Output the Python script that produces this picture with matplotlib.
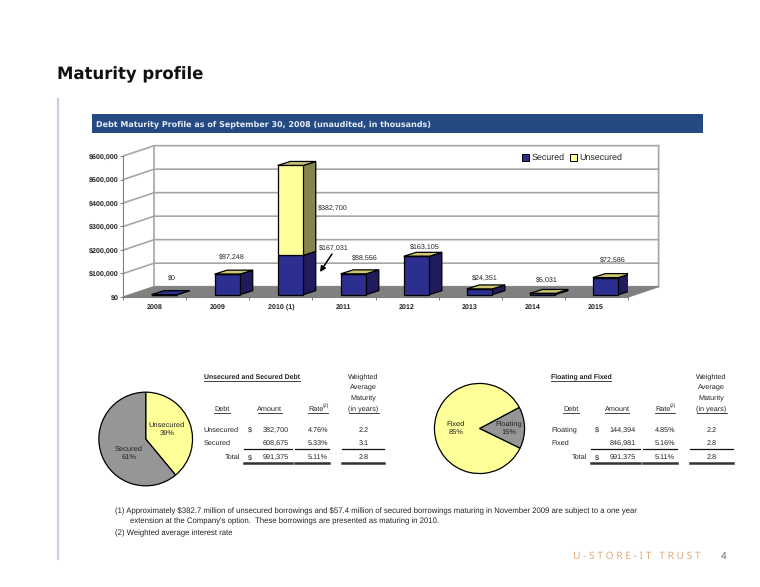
import matplotlib
matplotlib.use("Agg")
import matplotlib.pyplot as plt
from matplotlib.patches import Polygon, Patch, Rectangle

W, H = 760, 587

years = ['2008', '2009', '2010 (1)', '2011', '2012', '2013', '2014', '2015']
secured = [0, 87248, 167031, 88556, 163105, 24351, 5031, 72586]
unsecured = [0, 0, 382700, 0, 0, 0, 0, 0]
y_ticks = [0, 100000, 200000, 300000, 400000, 500000, 600000]

pie1_labels = ['Unsecured\n39%', 'Secured\n61%']
pie1_values = [39, 61]
pie2_labels = ['Floating\n15%', 'Fixed\n85%']
pie2_values = [15, 85]

table1_rows = [['Unsecured', '$', '382,700', '4.76%', '2.2'],
               ['Secured', '', '608,675', '5.33%', '3.1'],
               ['Total', '$', '991,375', '5.11%', '2.8']]
table2_rows = [['Floating', '$', '144,394', '4.85%', '2.2'],
               ['Fixed', '', '846,981', '5.16%', '2.8'],
               ['Total', '$', '991,375', '5.11%', '2.8']]

notes = ["(1) Approximately \\$382.7 million of unsecured borrowings and \\$57.4 million of secured borrowings maturing in November 2009 are subject to a one year",
         "extension at the Company's option.  These borrowings are presented as maturing in 2010.",
         "(2) Weighted average interest rate"]

NAVY = '#2c2e90'
NAVY_SIDE = '#1f1b5c'
YEL = '#ffff99'
YEL_SIDE = '#85834f'
YEL_TOP = '#cdc672'
GRID = '#a6a6a6'
TXT = '#222222'
ARIAL = 'Liberation Sans'
CHART_FS = 5.1

plt.rcParams['font.family'] = [ARIAL, 'DejaVu Sans']
plt.rcParams['text.hinting'] = 'no_hinting'

fig = plt.figure(figsize=(W / 100, H / 100), dpi=100, facecolor='white')


def px_axes(left, top, right, bottom):
    return fig.add_axes([left / W, 1 - bottom / H, (right - left) / W, (bottom - top) / H])


# page layer in pixel coordinates
page = fig.add_axes([0, 0, 1, 1])
page.set_xlim(0, W)
page.set_ylim(H, 0)
page.axis('off')

page.plot([58, 58], [99, 559], color='#c6d1e5', lw=1.6)
page.add_patch(Rectangle((92, 114), 611, 19, color='#234a82', lw=0))
page.text(57, 75, 'Maturity profile', family='DejaVu Sans', weight='bold', fontsize=11.9,
          color='#111111', va='center')
page.text(96, 124, 'Debt Maturity Profile as of September 30, 2008 (unaudited, in thousands)',
          family='DejaVu Sans', weight='bold', fontsize=5.72, color='#e8edf5', va='center')

# 3d style bar chart
ax = px_axes(123.3, 156, 627.7, 297)
ax.set_xlim(0, 8)
ax.set_ylim(0, 600000)
ax.patch.set_alpha(0)

# depth of the walls and bars in data units
wall_dx, wall_dy = 0.49, 44000
bar_dx, bar_dy = 0.2, 17000
bar_w = 0.405
bar_base = 10000

ax.add_patch(Polygon([(0, 0), (8, 0), (8 + wall_dx, wall_dy), (wall_dx, wall_dy)],
                     closed=True, fc='#808080', ec='#808080', lw=0.5, clip_on=False, zorder=1))
for t in y_ticks:
    ax.plot([0, wall_dx, 8 + wall_dx], [t, t + wall_dy, t + wall_dy], color=GRID, lw=1.2,
            clip_on=False, zorder=0.5)
ax.plot([wall_dx, wall_dx], [wall_dy, 600000 + wall_dy], color=GRID, lw=1.2, clip_on=False, zorder=0.5)
ax.plot([8, 8 + wall_dx, 8 + wall_dx], [0, wall_dy, 600000 + wall_dy], color=GRID, lw=1.2,
        clip_on=False, zorder=0.5)

xs = [i + 0.65 for i in range(len(years))]
tops = [bar_base + s + u for s, u in zip(secured, unsecured)]
mids = [bar_base + s for s in secured]

ax.bar(xs, secured, bar_w, bottom=bar_base, color=NAVY, edgecolor='black', lw=0.9, zorder=3)
ax.bar(xs, unsecured, bar_w, bottom=mids, color=YEL, edgecolor='black', lw=0.9, zorder=3)

for x, m, top, s, u in zip(xs, mids, tops, secured, unsecured):
    r = x + bar_w / 2
    l = x - bar_w / 2
    ax.add_patch(Polygon([(r, bar_base), (r + bar_dx, bar_base + bar_dy), (r + bar_dx, m + bar_dy), (r, m)],
                         closed=True, fc=NAVY_SIDE, ec='black', lw=0.9, zorder=2.5))
    if u > 0:
        ax.add_patch(Polygon([(r, m), (r + bar_dx, m + bar_dy), (r + bar_dx, top + bar_dy), (r, top)],
                             closed=True, fc=YEL_SIDE, ec='black', lw=0.9, zorder=2.5))
    ax.add_patch(Polygon([(l, top), (r, top), (r + bar_dx, top + bar_dy), (l + bar_dx, top + bar_dy)],
                         closed=True, fc=YEL_TOP if s > 0 else NAVY, ec='black', lw=0.9, zorder=2.6))

for side in ['top', 'right']:
    ax.spines[side].set_visible(False)
for side in ['left', 'bottom']:
    ax.spines[side].set_color('#808080')
ax.set_yticks(y_ticks)
ax.set_yticklabels(['\\${:,}'.format(t) for t in y_ticks], fontsize=CHART_FS, color=TXT, weight='bold')
ax.set_xticks(range(9))
ax.set_xticklabels([])
ax.set_xticks([i + 0.5 for i in range(8)], minor=True)
ax.set_xticklabels(years, minor=True, fontsize=CHART_FS, color=TXT, weight='bold', va='baseline')
ax.tick_params(axis='x', which='minor', length=0, pad=8.6)
ax.tick_params(axis='both', which='major', length=2.5, width=0.7, color='#808080')
ax.tick_params(axis='y', pad=0.5)

ax.legend(handles=[Patch(fc=NAVY, ec='black', lw=0.7, label='Secured'),
                   Patch(fc=YEL, ec='black', lw=0.7, label='Unsecured')],
          ncol=2, frameon=False, fontsize=6.4, handlelength=0.8, handleheight=0.8, handletextpad=0.25,
          columnspacing=0.6, labelcolor=TXT, loc='center', bbox_to_anchor=(0.89, 0.986), borderpad=0)

# value labels on the chart
label_pos = [(172, 278), (232, 257), (334, 248), (365, 258), (425, 247), (485, 278), (547, 280), (613, 260)]
for (lx, ly), s in zip(label_pos, secured):
    page.text(lx, ly, '\\${:,}'.format(s), fontsize=CHART_FS, color=TXT, ha='center', va='center')
page.text(333, 208, '\\${:,}'.format(unsecured[2]), fontsize=CHART_FS, color=TXT, ha='center', va='center')
page.annotate('', xy=(320, 272), xytext=(332, 254),
              arrowprops=dict(arrowstyle='-|>', color='black', lw=1.1, mutation_scale=8, shrinkA=0, shrinkB=0))


# pies
def draw_pie(cx, cy, r, values, labels, colors, start, label_pos):
    a = px_axes(cx - r, cy - r, cx + r, cy + r)
    a.pie(values, colors=colors, startangle=start, counterclock=False, radius=1,
          wedgeprops=dict(edgecolor='black', linewidth=0.9))
    a.set_xlim(-1.01, 1.01)
    a.set_ylim(-1.01, 1.01)
    for lab, (lx, ly) in zip(labels, label_pos):
        page.text(lx, ly, lab, fontsize=5.4, color=TXT, ha='center', va='center', linespacing=1.25)


page.set_zorder(5)
draw_pie(145.7, 439, 47.3, pie1_values, pie1_labels, [YEL, '#969696'], 90, [(167, 429), (129, 453)])
draw_pie(479.5, 428.5, 45.5, pie2_values, pie2_labels, ['#969696', YEL], 28, [(509, 428), (456, 428)])


# tables next to the pies
def draw_table(title, rows, x_label, x_debt, x_dollar, x_amount, x_rate, x_mat, x_total, spans, title_end):
    fs = 5.2
    page.text(x_label, 377, title, fontsize=4.95, weight='bold', color=TXT, va='center')
    page.plot([x_label, title_end], [381, 381], color=TXT, lw=0.6)
    for yy, t in zip([377, 387.5, 398, 409], ['Weighted', 'Average', 'Maturity', '(in years)']):
        page.text(x_mat, yy, t, fontsize=fs, color=TXT, ha='center', va='center')
    page.text(x_debt, 409, 'Debt', fontsize=fs, color=TXT, ha='center', va='center')
    page.text(x_amount - 19, 409, 'Amount', fontsize=fs, color=TXT, ha='center', va='center')
    page.text(x_rate - 2, 409, 'Rate', fontsize=fs, color=TXT, ha='center', va='center')
    page.text(x_rate + 5, 406, '(2)', fontsize=3.8, color=TXT, va='center')
    page.plot([x_debt - 8, x_debt + 8], [413, 413], color=TXT, lw=0.6)
    page.plot([x_amount - 31, x_amount - 7], [413, 413], color=TXT, lw=0.6)
    page.plot([x_rate - 10, x_rate + 10], [413, 413], color=TXT, lw=0.6)
    page.plot([x_mat - 15, x_mat + 15], [413, 413], color=TXT, lw=0.6)
    for yy, row in zip([430, 443, 457.5], rows):
        if row[0] == 'Total':
            page.text(x_total, yy, row[0], fontsize=fs, color=TXT, ha='right', va='center')
        else:
            page.text(x_label, yy, row[0], fontsize=fs, color=TXT, va='center')
        page.text(x_dollar, yy, row[1].replace('$', '\\$'), fontsize=fs, color=TXT, ha='center', va='center')
        page.text(x_amount, yy, row[2], fontsize=fs, color=TXT, ha='right', va='center')
        page.text(x_rate, yy, row[3], fontsize=fs, color=TXT, ha='center', va='center')
        page.text(x_mat, yy, row[4], fontsize=fs, color=TXT, ha='center', va='center')
    for a, b in spans:
        page.plot([a, b], [448.5, 448.5], color='#111111', lw=0.9)
        page.plot([a, b], [463, 463], color='#333333', lw=1.8)


draw_table('Unsecured and Secured Debt', table1_rows, 203.7, 222, 250, 288.5, 318, 363.5, 240,
           [(244, 292), (295, 329), (342, 384)], 300)
draw_table('Floating and Fixed', table2_rows, 551, 570.6, 597, 636, 665, 711.5, 587,
           [(591, 640), (643, 677), (690, 733)], 611)

# footnotes and footer
page.text(115, 511, notes[0], fontsize=5.6, color=TXT, va='center')
page.text(130, 521.5, notes[1], fontsize=5.6, color=TXT, va='center')
page.text(115, 533, notes[2], fontsize=5.6, color=TXT, va='center')
page.text(573, 556, ' '.join('U-STORE-IT') + '   ' + ' '.join('TRUST'), family='Noto Sans',
          fontsize=7.35, color='#e0a878', va='center')
page.text(724, 556, '4', family='Noto Sans', fontsize=7, color='#666666', va='center', ha='center')

fig.savefig('out.png', dpi=100)
